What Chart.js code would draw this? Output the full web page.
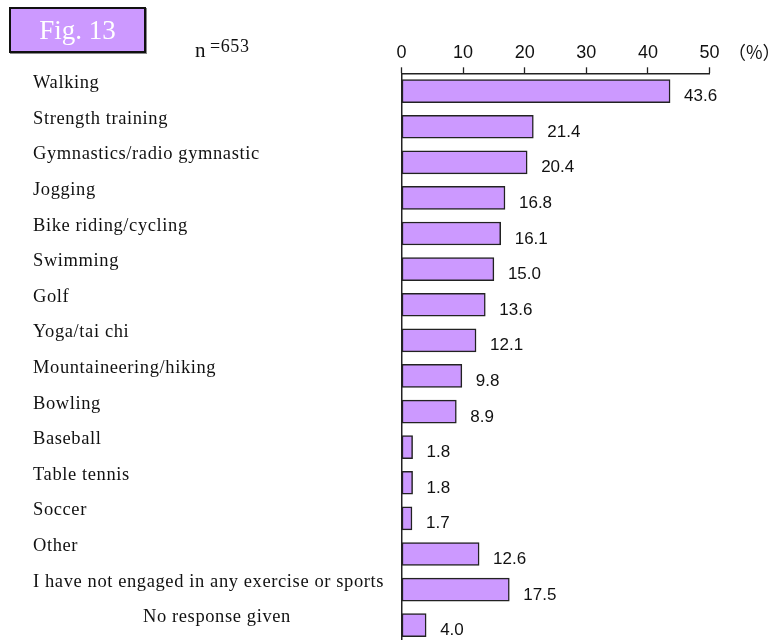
<!DOCTYPE html>
<html>
<head>
<meta charset="utf-8">
<script src="https://cdn.jsdelivr.net/npm/chart.js@4/dist/chart.umd.min.js"></script>
<style>
html,body{margin:0;padding:0;background:#fff;overflow:hidden;width:784px;height:640px;}
#wrap{position:absolute;left:0;top:0;width:784px;height:643px;}
#fig{position:absolute;left:9px;top:7px;width:133px;height:42px;background:#CC99FF;border:2px solid #111;box-shadow:1px 1px 0 #888;color:#fff;font-family:"Liberation Serif","DejaVu Serif",serif;font-size:27px;line-height:42px;text-align:center;}
</style>
</head>
<body>
<div id="wrap"><canvas id="c" width="784" height="643"></canvas></div>
<div id="fig">Fig. 13</div>
<script>
const categories = ["Walking","Strength training","Gymnastics/radio gymnastic","Jogging","Bike riding/cycling","Swimming","Golf","Yoga/tai chi","Mountaineering/hiking","Bowling","Baseball","Table tennis","Soccer","Other","I have not engaged in any exercise or sports","No response given"];
const values = [43.6,21.4,20.4,16.8,16.1,15.0,13.6,12.1,9.8,8.9,1.8,1.8,1.7,12.6,17.5,4.0];
const tickValues = [0,10,20,30,40,50];
const sampleLetter = "n";
const sampleCount = "=653";
const unitNote = "（%）";

const labelsPlugin = {
  id:'labelsPlugin',
  afterDraw(chart){
    const ctx = chart.ctx;
    const ys = chart.scales.y;
    const meta = chart.getDatasetMeta(0);
    ctx.save();
    ctx.fillStyle = '#111';
    ctx.textAlign = 'left';
    ctx.textBaseline = 'alphabetic';
    // category labels
    ctx.font = '18.5px "Liberation Serif", "DejaVu Serif", serif';
    try{ ctx.letterSpacing = '0.6px'; }catch(e){}
    categories.forEach((c,i)=>{
      const y = ys.getPixelForValue(i);
      const x = (i === categories.length-1) ? 143 : 33;
      ctx.fillText(c, x, y - 3);
    });
    // n note
    ctx.font = '21px "Liberation Serif", serif';
    try{ ctx.letterSpacing = '0px'; }catch(e){}
    ctx.fillText(sampleLetter, 195, 57);
    ctx.font = '18px "Liberation Serif", serif';
    try{ ctx.letterSpacing = '0.6px'; }catch(e){}
    ctx.fillText(sampleCount, 210, 52);
    try{ ctx.letterSpacing = '0px'; }catch(e){}
    // value labels
    ctx.font = '17px "Liberation Sans", Arial, sans-serif';
    meta.data.forEach((bar,i)=>{
      ctx.fillText(values[i].toFixed(1), bar.x + 14, bar.y + 10);
    });
    // unit
    ctx.font = '18px "Noto Sans CJK JP", sans-serif';
    ctx.fillText(unitNote, 728, 59);
    ctx.restore();
  }
};

new Chart(document.getElementById('c'), {
  type:'bar',
  data:{
    labels: categories,
    datasets:[{
      data: values,
      backgroundColor:'#CC99FF',
      borderColor:'#222222',
      borderWidth:1.5,
      borderSkipped:false,
      barThickness:23
    }]
  },
  options:{
    indexAxis:'y',
    responsive:false,
    animation:false,
    layout:{padding:{left:401.5,right:74.5,top:43.3,bottom:0}},
    plugins:{legend:{display:false},tooltip:{enabled:false}},
    scales:{
      x:{
        position:'top',
        min:0,max:50,
        afterBuildTicks(scale){ scale.ticks = tickValues.map(v=>({value:v})); },
        afterFit(scale){ scale.height = 30; },
        grid:{drawOnChartArea:false,drawTicks:true,tickLength:6,color:'#222',tickWidth:1.3},
        border:{display:true,color:'#222',width:1.5},
        ticks:{color:'#111',padding:3,font:{family:'"Liberation Sans Narrow","Liberation Sans",Arial,sans-serif',size:18}}
      },
      y:{
        afterFit(scale){ scale.width = 0; },
        ticks:{display:false},
        grid:{display:false},
        border:{display:true,color:'#222',width:1.5}
      }
    }
  },
  plugins:[labelsPlugin]
});
</script>
</body>
</html>
